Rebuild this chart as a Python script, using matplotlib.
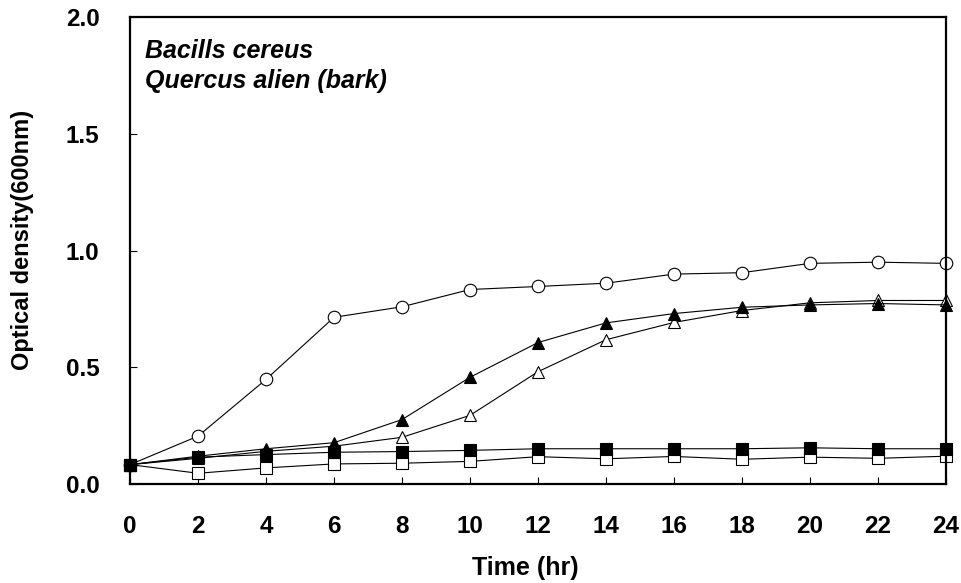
import numpy as np
import matplotlib
matplotlib.use('Agg')
import matplotlib.pyplot as plt

plt.rcParams['font.family'] = ['Liberation Sans', 'DejaVu Sans']
plt.rcParams['font.weight'] = 'bold'

# Growth curve readings, OD at 600nm
time_hr = [0, 2, 4, 6, 8, 10, 12, 14, 16, 18, 20, 22, 24]
od_open_circle = [0.083, 0.205, 0.448, 0.714, 0.759, 0.833, 0.846, 0.860, 0.899, 0.905, 0.945, 0.950, 0.945]
od_open_triangle = [0.083, 0.110, 0.140, 0.162, 0.200, 0.294, 0.481, 0.618, 0.692, 0.743, 0.776, 0.786, 0.786]
od_filled_triangle = [0.083, 0.119, 0.151, 0.177, 0.276, 0.457, 0.606, 0.690, 0.730, 0.757, 0.767, 0.773, 0.767]
od_open_square = [0.083, 0.046, 0.069, 0.086, 0.089, 0.097, 0.117, 0.108, 0.118, 0.106, 0.115, 0.110, 0.119]
od_filled_square = [0.083, 0.115, 0.126, 0.136, 0.139, 0.144, 0.151, 0.151, 0.151, 0.151, 0.155, 0.151, 0.151]

x_ticks = np.arange(0, 25, 2)
y_ticks = [0.0, 0.5, 1.0, 1.5, 2.0]

fig = plt.figure(figsize=(9.61, 5.83), dpi=100)
ax = fig.add_axes([0.1353, 0.1698, 0.8491, 0.801])

line_kw = dict(color='black', linewidth=0.8, clip_on=False, markeredgewidth=0.8)
ax.plot(time_hr, od_open_circle, marker='o', markersize=9, markerfacecolor='white', markeredgecolor='black', **line_kw)
ax.plot(time_hr, od_open_triangle, marker='^', markersize=9, markerfacecolor='white', markeredgecolor='black', **line_kw)
ax.plot(time_hr, od_filled_triangle, marker='^', markersize=9, markerfacecolor='black', markeredgecolor='black', **line_kw)
ax.plot(time_hr, od_open_square, marker='s', markersize=8, markerfacecolor='white', markeredgecolor='black', **line_kw)
ax.plot(time_hr, od_filled_square, marker='s', markersize=8, markerfacecolor='black', markeredgecolor='black', **line_kw)

ax.set_xlim(0, 24)
ax.set_ylim(0, 2.0)
ax.set_xticks(x_ticks)
ax.set_yticks(y_ticks)
ax.set_yticklabels([f'{v:.1f}' for v in y_ticks])
ax.tick_params(direction='in', length=5, width=0.8, labelsize=17.5, top=False, right=False)
ax.tick_params(axis='x', pad=22)
ax.tick_params(axis='y', pad=22)

for sp in ax.spines.values():
    sp.set_linewidth(1.6)

ax.set_xlabel('Time (hr)', fontsize=18, fontweight='bold', labelpad=13)
ax.set_ylabel('Optical density(600nm)', fontsize=17, fontweight='bold', labelpad=23)
# labels in the original sit a little off-centre
ax.xaxis.label.set_x(0.484)
ax.yaxis.label.set_y(0.523)

ax.text(0.0185, 0.913, 'Bacills cereus', transform=ax.transAxes, fontsize=18,
        fontweight='bold', fontstyle='italic', va='baseline')
ax.text(0.0185, 0.848, 'Quercus alien (bark)', transform=ax.transAxes, fontsize=18,
        fontweight='bold', fontstyle='italic', va='baseline')

plt.savefig('out.png', dpi=100)
